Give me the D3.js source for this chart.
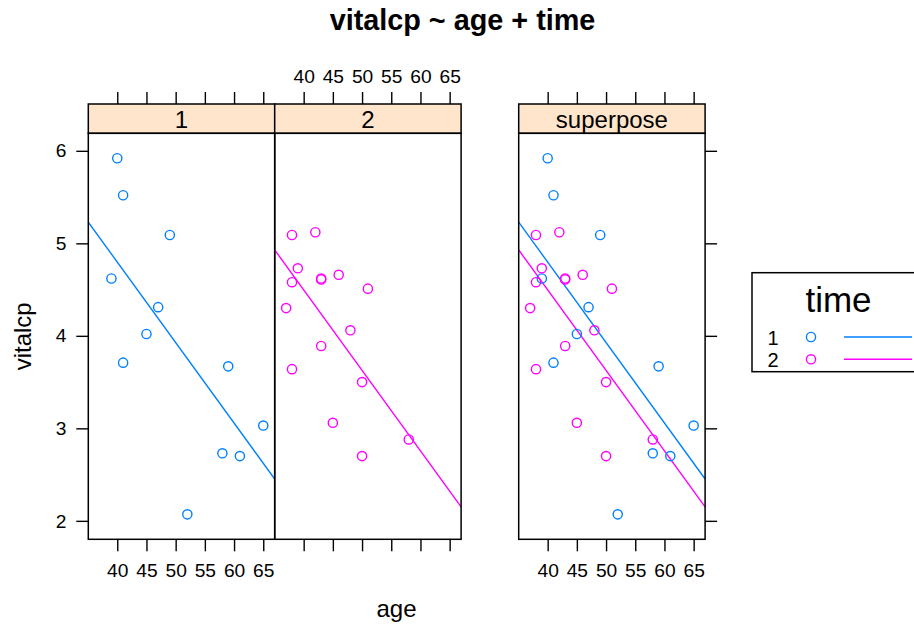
<!DOCTYPE html>
<html>
<head>
<meta charset="utf-8">
<script src="https://cdn.jsdelivr.net/npm/d3@7"></script>
<style>
  html, body { margin: 0; padding: 0; background: #fff; }
  svg { display: block; font-family: "Liberation Sans", Arial, Helvetica, sans-serif; }
</style>
</head>
<body>
<svg id="chart" width="914" height="625"></svg>
<script>
// Vital capacity by age, for two measurement times
const age1 = [40, 41, 49, 39, 47, 45, 41, 59, 65, 58, 61, 52];
const vit1 = [5.92, 5.52, 5.09, 4.62, 4.31, 4.02, 3.71, 3.67, 3.03, 2.73, 2.70, 2.07];
const age2 = [38, 42, 39, 38, 43, 43, 46, 51, 37, 48, 43, 38, 50, 45, 58, 50];
const vit2 = [5.09, 5.12, 4.73, 4.58, 4.62, 4.61, 4.66, 4.51, 4.30, 4.06, 3.89, 3.64, 3.50, 3.06, 2.88, 2.70];

const groupNames = ["1", "2"];
const groupColors = ["#0080ff", "#ff00ff"];
const stripLabels = ["1", "2", "superpose"];
const xTicks = [40, 45, 50, 55, 60, 65];
const yTicks = [2, 3, 4, 5, 6];

const groups = [
  { name: groupNames[0], color: groupColors[0], pts: age1.map((a, i) => ({ x: a, y: vit1[i] })) },
  { name: groupNames[1], color: groupColors[1], pts: age2.map((a, i) => ({ x: a, y: vit2[i] })) }
];

// Additive model vitalcp ~ age + time: common slope, separate intercepts
let sxy = 0, sxx = 0;
groups.forEach(g => {
  const mx = d3.mean(g.pts, p => p.x), my = d3.mean(g.pts, p => p.y);
  g.mx = mx; g.my = my;
  g.pts.forEach(p => { sxy += (p.x - mx) * (p.y - my); sxx += (p.x - mx) ** 2; });
});
const slope = sxy / sxx;
groups.forEach(g => { g.intercept = g.my - slope * g.mx; });

// Axis limits with 7% padding around the data range
const allPts = groups.flatMap(g => g.pts);
function padded(ext) { const r = ext[1] - ext[0]; return [ext[0] - 0.07 * r, ext[1] + 0.07 * r]; }
const xDom = padded(d3.extent(allPts, p => p.x));
const yDom = padded(d3.extent(allPts, p => p.y));

const svg = d3.select("#chart");
const W = 186.4;
const panelTop = 133.3, panelBottom = 539.3, stripTop = 104;
const panels = [
  { left: 88.3, strip: stripLabels[0], show: [0] },
  { left: 88.3 + W, strip: stripLabels[1], show: [1] },
  { left: 518.7, strip: stripLabels[2], show: [0, 1] }
];

const y = d3.scaleLinear().domain(yDom).range([panelBottom, panelTop]);
const tickLen = 12;
const tickFont = 19.2;

svg.append("defs").selectAll("clipPath").data(panels).join("clipPath")
  .attr("id", (d, i) => "clip" + i)
  .append("rect")
  .attr("x", d => d.left).attr("y", panelTop)
  .attr("width", W).attr("height", panelBottom - panelTop);

panels.forEach((p, i) => {
  const x = d3.scaleLinear().domain(xDom).range([p.left, p.left + W]);
  p.x = x;
  const g = svg.append("g");

  // data layer
  const plot = g.append("g").attr("clip-path", `url(#clip${i})`);
  p.show.forEach(k => {
    const grp = groups[k];
    plot.append("line")
      .attr("x1", x(xDom[0])).attr("x2", x(xDom[1]))
      .attr("y1", y(grp.intercept + slope * xDom[0]))
      .attr("y2", y(grp.intercept + slope * xDom[1]))
      .attr("stroke", grp.color).attr("stroke-width", 1.4);
  });
  p.show.forEach(k => {
    const grp = groups[k];
    plot.selectAll(null).data(grp.pts).join("circle")
      .attr("cx", d => x(d.x)).attr("cy", d => y(d.y)).attr("r", 4.6)
      .attr("fill", "none").attr("stroke", grp.color).attr("stroke-width", 1.4);
  });

  // strip
  g.append("rect")
    .attr("x", p.left).attr("y", stripTop)
    .attr("width", W).attr("height", panelTop - stripTop)
    .attr("fill", "#ffe5cc").attr("stroke", "#000").attr("stroke-width", 1.5);
  g.append("text")
    .attr("x", p.left + W / 2).attr("y", 127.5)
    .attr("text-anchor", "middle").attr("font-size", 24)
    .text(p.strip);

  // panel border
  g.append("rect")
    .attr("x", p.left).attr("y", panelTop)
    .attr("width", W).attr("height", panelBottom - panelTop)
    .attr("fill", "none").attr("stroke", "#000").attr("stroke-width", 1.5);

  // bottom ticks (labels on first and last panel)
  const bottomAxis = d3.axisBottom(x).tickValues(xTicks).tickSize(tickLen).tickPadding(12)
    .tickFormat(i === 1 ? "" : d3.format("d"));
  const ba = g.append("g").attr("transform", `translate(0,${panelBottom})`).call(bottomAxis);
  // top ticks (labels on middle panel)
  const topAxis = d3.axisTop(x).tickValues(xTicks).tickSize(tickLen).tickPadding(9)
    .tickFormat(i === 1 ? d3.format("d") : "");
  const ta = g.append("g").attr("transform", `translate(0,${stripTop})`).call(topAxis);
  [ba, ta].forEach(a => {
    a.select(".domain").remove();
    a.selectAll("line").attr("stroke", "#000").attr("stroke-width", 1.4);
    a.selectAll("text").attr("font-size", tickFont).attr("fill", "#000")
      .attr("font-family", "Liberation Sans, Arial, sans-serif");
  });

  if (i === 0) {
    const la = g.append("g").attr("transform", `translate(${p.left},0)`)
      .call(d3.axisLeft(y).tickValues(yTicks).tickSize(tickLen).tickPadding(10).tickFormat(d3.format("d")));
    la.select(".domain").remove();
    la.selectAll("line").attr("stroke", "#000").attr("stroke-width", 1.4);
    la.selectAll("text").attr("font-size", tickFont).attr("fill", "#000")
      .attr("font-family", "Liberation Sans, Arial, sans-serif");
  }
  if (i === 2) {
    const ra = g.append("g").attr("transform", `translate(${p.left + W},0)`)
      .call(d3.axisRight(y).tickValues(yTicks).tickSize(tickLen).tickFormat(""));
    ra.select(".domain").remove();
    ra.selectAll("line").attr("stroke", "#000").attr("stroke-width", 1.4);
  }
});

// title and axis labels
svg.append("text").attr("x", 462.5).attr("y", 30)
  .attr("text-anchor", "middle").attr("font-size", 28.8).attr("font-weight", "bold")
  .text("vitalcp ~ age + time");
svg.append("text").attr("x", 396.5).attr("y", 617)
  .attr("text-anchor", "middle").attr("font-size", 24)
  .text("age");
svg.append("text")
  .attr("transform", `translate(31,${(panelTop + panelBottom) / 2}) rotate(-90)`)
  .attr("text-anchor", "middle").attr("font-size", 24)
  .text("vitalcp");

// legend
const lg = svg.append("g");
lg.append("rect").attr("x", 752).attr("y", 272.7).attr("width", 170).attr("height", 99)
  .attr("fill", "#fff").attr("stroke", "#000").attr("stroke-width", 1.5);
lg.append("text").attr("x", 838.5).attr("y", 311.5)
  .attr("text-anchor", "middle").attr("font-size", 35).text("time");
const rowY = [337, 359.3];
groups.forEach((grp, k) => {
  lg.append("text").attr("x", 773).attr("y", rowY[k] + 8)
    .attr("text-anchor", "middle").attr("font-size", 20).text(grp.name);
  lg.append("circle").attr("cx", 811).attr("cy", rowY[k]).attr("r", 4.6)
    .attr("fill", "none").attr("stroke", grp.color).attr("stroke-width", 1.4);
  lg.append("line").attr("x1", 844).attr("x2", 912).attr("y1", rowY[k]).attr("y2", rowY[k])
    .attr("stroke", grp.color).attr("stroke-width", 1.4);
});
</script>
</body>
</html>
